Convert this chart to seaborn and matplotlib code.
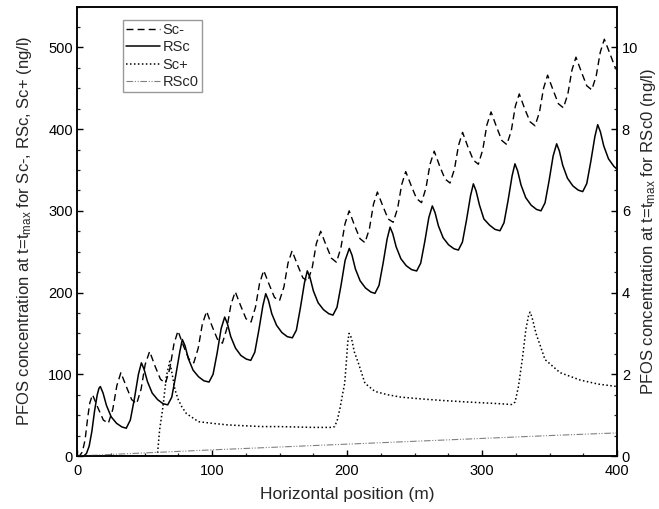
import numpy as np
import pandas as pd
import matplotlib
matplotlib.use("Agg")
import matplotlib.pyplot as plt
import seaborn as sns
from matplotlib.ticker import MultipleLocator

# ---------------- data ----------------
sc_minus_x = [0, 2, 4, 6, 8, 9.5, 11.5,
              15.5, 19.5, 23.2, 26.5, 29.5, 32.5,
              36.5, 40.5, 44.2, 47.5, 50.5, 53.8,
              57.8, 61.8, 65.5, 68.8, 71.8, 74.8,
              78.8, 82.8, 86.5, 89.8, 92.8, 96,
              100, 104, 107.7, 111, 114, 117.2,
              121.2, 125.2, 128.9, 132.2, 135.2, 138.3,
              142.3, 146.3, 150, 153.3, 156.3, 159.3,
              163.3, 167.3, 171, 174.3, 177.3, 180.5,
              184.5, 188.5, 192.2, 195.5, 198.5, 201.6,
              205.6, 209.6, 213.3, 216.6, 219.6, 222.5,
              226.5, 230.5, 234.2, 237.5, 240.5, 243.5,
              247.5, 251.5, 255.2, 258.5, 261.5, 264.6,
              268.6, 272.6, 276.3, 279.6, 282.6, 285.6,
              289.6, 293.6, 297.3, 300.6, 303.6, 306.7,
              310.7, 314.7, 318.4, 321.7, 324.7, 327.6,
              331.6, 335.6, 339.3, 342.6, 345.6, 348.6,
              352.6, 356.6, 360.3, 363.6, 366.6, 369.6,
              373.6, 377.6, 381.3, 384.6, 387.6, 390.6,
              394.6, 398.5, 400]
sc_minus_y = [0, 0.5, 5, 20, 48, 65, 75,
              59, 44, 40, 57, 86, 102,
              85, 69, 64, 82, 112, 128,
              110, 94, 89, 107, 137, 153,
              135, 119, 114, 132, 161, 177,
              159, 143, 138, 156, 185, 201,
              184, 168, 164, 182, 211, 227,
              210, 194, 190, 207, 236, 251,
              234, 218, 214, 231, 260, 275,
              258, 242, 237, 255, 284, 300,
              282, 266, 261, 278, 308, 323,
              306, 290, 286, 303, 332, 348,
              331, 315, 310, 328, 357, 373,
              355, 339, 334, 351, 380, 396,
              378, 362, 357, 375, 405, 421,
              403, 386, 381, 398, 428, 443,
              425, 409, 404, 421, 450, 466,
              448, 431, 426, 443, 472, 488,
              470, 453, 448, 465, 494, 510,
              493, 476, 472]

rsc_x = [0, 5, 7, 9, 11, 13, 15, 16.3, 17.3,
         19.3, 21.8, 25.3, 29.3, 33.3, 36.5, 39.5, 42.5, 45.5, 47.7,
         49.7, 52.2, 55.7, 59.7, 63.7, 67.2, 70.2, 73.2, 76.2, 78,
         80, 82.5, 86, 90, 94, 97.8, 100.8, 103.8, 106.8, 109.4,
         111.4, 113.9, 117.4, 121.4, 125.4, 128.7, 131.7, 134.7, 137.7, 139.8,
         141.8, 144.3, 147.8, 151.8, 155.8, 159.5, 162.5, 165.5, 168.5, 170.6,
         172.6, 175.1, 178.6, 182.6, 186.6, 189.6, 192.6, 195.6, 198.6, 201.7,
         203.7, 206.2, 209.7, 213.7, 217.7, 220.7, 223.7, 226.7, 229.7, 231.9,
         233.9, 236.4, 239.9, 243.9, 247.9, 251.6, 254.6, 257.6, 260.6, 263.2,
         265.2, 267.7, 271.2, 275.2, 279.2, 282.5, 285.5, 288.5, 291.5, 293.6,
         295.6, 298.1, 300.6, 301.4, 305.6, 309.6, 313.3, 316.3, 319.3, 322.3, 324.4,
         326.4, 328.9, 332.4, 336.4, 340.4, 343.7, 346.7, 349.7, 352.7, 355.3,
         357.3, 359.8, 363.3, 367.3, 371.3, 374.6, 377.6, 380.6, 383.6, 385.7,
         387.7, 390.2, 393.7, 397.7, 400]
rsc_y = [0, 0, 3, 12, 30, 55, 75, 83, 85,
         77, 62, 48, 40, 35.5, 34, 44, 70, 100, 114,
         106, 91, 77, 69, 64, 62.6, 72, 99, 128, 142.5,
         135, 119, 105, 97, 92, 90.5, 100, 126, 156, 170,
         162, 146, 132, 123, 118.6, 117, 127, 154, 184, 198.6,
         190.5, 174, 160, 151, 146, 144.6, 154, 181.5, 212, 226.5,
         218.4, 202, 187.5, 179, 174, 172.4, 182, 209, 239.3, 254,
         245.8, 229, 214.4, 205.6, 200.6, 199, 208.7, 235.5, 265.4, 280,
         272, 256, 241.4, 232.8, 228, 226.4, 236, 262.2, 291.7, 306,
         297.9, 281.7, 267, 258.5, 253.6, 252, 261.7, 288.5, 318.4, 333,
         324.4, 307.2, 294, 290, 282.5, 277.3, 275.6, 285.4, 312.5, 342.8, 357.5,
         348.9, 331.6, 316.1, 306.9, 301.7, 300, 309.8, 336.9, 367.2, 382,
         373.2, 355.7, 339.9, 330.5, 325.3, 323.5, 333.3, 360.4, 390.7, 405.4,
         396.7, 379.3, 363.6, 354.4, 351]

sc_plus_x = [0, 59.5, 61.2, 63.7, 66.2, 68.7, 70.5, 72.6, 75, 77.5, 81, 85, 90,
             100, 112, 124, 137, 149, 162, 175, 188.5, 190.9, 193, 195, 197,
             198.3, 199.5, 200.5, 201.5, 202.5, 203.5, 205.5, 208.4, 213.3, 220.7,
             230, 240, 254, 270, 290, 313, 322, 324.5, 327, 330, 332.5, 334.5,
             335.6, 337, 340, 346.7, 357.8, 372.6, 386, 400]
sc_plus_y = [0, 0, 32, 60.6, 97.4, 116, 100, 81, 69, 60.6, 52, 47.5, 42,
             40, 38, 37, 36, 36, 35.5, 35, 35, 36, 45, 60, 78,
             89, 115, 138, 150, 148, 142.5, 127, 113.8, 89, 79,
             75, 72, 70, 68, 66, 64, 63, 66, 85, 120, 155, 172,
             176, 170, 150, 118, 102, 93, 88, 85]

rsc0_x = [0, 50, 100, 150, 200, 250, 300, 350, 400]
rsc0_y = [0, 0.075, 0.15, 0.22, 0.29, 0.36, 0.43, 0.50, 0.565]

x_ticks = [0, 100, 200, 300, 400]
left_ticks = [0, 100, 200, 300, 400, 500]
right_ticks = [0, 2, 4, 6, 8, 10]

# ---------------- styling ----------------
sns.set_theme(style="ticks")
plt.rcParams['font.family'] = ['Liberation Sans', 'DejaVu Sans']
plt.rcParams['mathtext.fontset'] = 'custom'
plt.rcParams['mathtext.rm'] = 'Liberation Sans'
plt.rcParams['mathtext.it'] = 'Liberation Sans'

fig = plt.figure(figsize=(6.59, 5.09), dpi=100)
ax = fig.add_axes([77 / 659, 53 / 509, 540 / 659, 449.5 / 509])
ax2 = ax.twinx()

df_m = pd.DataFrame({"x": sc_minus_x, "y": sc_minus_y})
df_r = pd.DataFrame({"x": rsc_x, "y": rsc_y})
df_p = pd.DataFrame({"x": sc_plus_x, "y": sc_plus_y})
df_0 = pd.DataFrame({"x": rsc0_x, "y": rsc0_y})

sns.lineplot(data=df_m, x="x", y="y", ax=ax, color="black", lw=1.0,
             linestyle=(0, (5, 3)), label="Sc-", estimator=None, sort=False)
sns.lineplot(data=df_r, x="x", y="y", ax=ax, color="black", lw=1.1,
             linestyle="-", label="RSc", estimator=None, sort=False)
sns.lineplot(data=df_p, x="x", y="y", ax=ax, color="black", lw=1.1,
             linestyle=(0, (1, 1.6)), label="Sc+", estimator=None, sort=False)
sns.lineplot(data=df_0, x="x", y="y", ax=ax2, color="#808080", lw=0.8,
             linestyle=(0, (6, 1.5, 1, 1.5, 1, 1.5)), label="RSc0",
             estimator=None, sort=False)

ax.set_xlim(0, 400)
ax.set_ylim(0, 550)
ax2.set_ylim(0, 11)

ax.set_xticks(x_ticks)
ax.set_yticks(left_ticks)
ax2.set_yticks(right_ticks)
ax.xaxis.set_minor_locator(MultipleLocator(25))
ax.yaxis.set_minor_locator(MultipleLocator(25))
ax2.yaxis.set_minor_locator(MultipleLocator(0.5))

for a in (ax, ax2):
    for s in a.spines.values():
        s.set_visible(True)
        s.set_color("black")
        s.set_linewidth(1.1)
    a.tick_params(which="major", direction="in", length=4, width=1.0,
                  labelsize=10.5, colors="black", pad=6)
    a.tick_params(which="minor", direction="in", length=2.2, width=0.9)
ax.tick_params(axis="y", which="both", right=False, pad=3)
ax.tick_params(axis="x", which="both", top=False)
ax2.tick_params(axis="y", which="both", left=False, pad=3.5)

ax.set_xlabel("Horizontal position (m)", fontsize=12.5, labelpad=6)
ax.set_ylabel("PFOS concentration at t=t$_{\\mathrm{max}}$ for Sc-, RSc, Sc+ (ng/l)",
              fontsize=12, labelpad=10)
ax2.set_ylabel("PFOS concentration at t=t$_{\\mathrm{max}}$ for RSc0 (ng/l)",
               fontsize=12, labelpad=0.5)

h1, l1 = ax.get_legend_handles_labels()
h2, l2 = ax2.get_legend_handles_labels()
if ax2.get_legend() is not None:
    ax2.get_legend().remove()
leg = ax.legend(h1 + h2, l1 + l2, loc="upper left",
                bbox_to_anchor=(0.085, 0.97), borderaxespad=0,
                fancybox=False, frameon=True, fontsize=10.5,
                handlelength=2.35, handletextpad=0.15, labelspacing=0.22,
                borderpad=0.22)
leg.get_frame().set_edgecolor("#808080")
leg.get_frame().set_linewidth(1.0)

fig.savefig("out.png", dpi=100)
